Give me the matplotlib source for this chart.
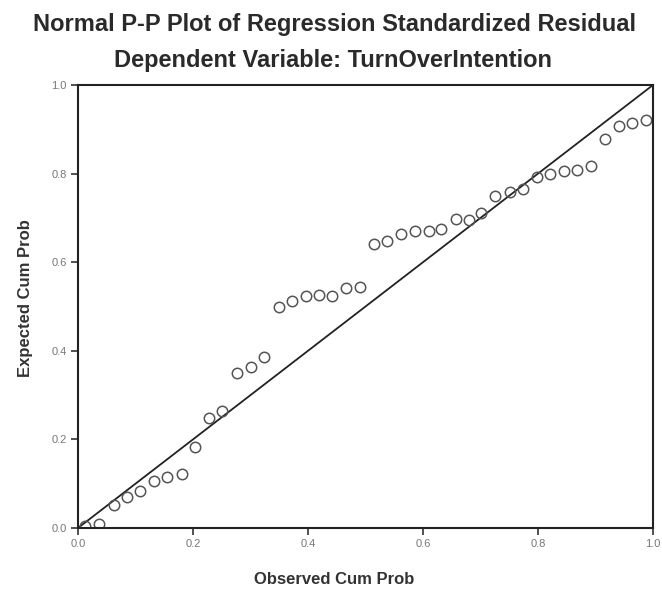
import matplotlib.pyplot as plt

plt.rcParams['font.family'] = ['Liberation Sans', 'DejaVu Sans']

# observed vs expected cumulative probabilities
observed = [0.013, 0.037, 0.063, 0.086, 0.108, 0.132, 0.155, 0.180, 0.203, 0.227,
            0.251, 0.277, 0.301, 0.323, 0.350, 0.373, 0.396, 0.419, 0.442, 0.466,
            0.490, 0.514, 0.538, 0.562, 0.586, 0.610, 0.632, 0.657, 0.680, 0.701,
            0.726, 0.751, 0.774, 0.798, 0.821, 0.845, 0.867, 0.892, 0.917, 0.941,
            0.964, 0.988]
expected = [0.005, 0.009, 0.052, 0.070, 0.084, 0.107, 0.116, 0.122, 0.182, 0.249,
            0.264, 0.351, 0.364, 0.385, 0.499, 0.513, 0.524, 0.525, 0.524, 0.542,
            0.545, 0.641, 0.648, 0.663, 0.670, 0.670, 0.676, 0.698, 0.695, 0.711,
            0.749, 0.758, 0.765, 0.793, 0.800, 0.806, 0.809, 0.817, 0.879, 0.908,
            0.914, 0.920]
ticks = [0.0, 0.2, 0.4, 0.6, 0.8, 1.0]
tick_labels = ['0.0', '0.2', '0.4', '0.6', '0.8', '1.0']

fig = plt.figure(figsize=(6.62, 5.96), dpi=100)
ax = fig.add_axes([78 / 662, 1 - 528 / 596, 575 / 662, 443 / 596])

ax.plot([0, 1], [0, 1], color='#222222', lw=1.3)
ax.plot(observed, expected, 'o', mfc='none', mec='#555555', mew=1.1, ms=7.5)

ax.set_xlim(0, 1)
ax.set_ylim(0, 1)
ax.set_xticks(ticks)
ax.set_xticklabels(tick_labels)
ax.set_yticks(ticks)
ax.set_yticklabels(tick_labels)
ax.tick_params(direction='out', length=5, width=1.2, color='#333333',
               labelsize=8, labelcolor='#777777', pad=3)
for s in ax.spines.values():
    s.set_linewidth(1.5)
    s.set_color('#222222')

ax.set_xlabel('Observed Cum Prob', fontsize=12, fontweight='bold', color='#333333')
ax.xaxis.set_label_coords(0.445, -0.1)
ax.set_ylabel('Expected Cum Prob', fontsize=12, fontweight='bold', color='#333333')
ax.yaxis.set_label_coords(-0.078, 0.52)

fig.text(0.505, 1 - 25 / 596, 'Normal P-P Plot of Regression Standardized Residual',
         ha='center', va='center', fontsize=17, fontweight='bold', color='#2a2a2a')
fig.text(0.503, 1 - 60 / 596, 'Dependent Variable: TurnOverIntention',
         ha='center', va='center', fontsize=17, fontweight='bold', color='#2a2a2a')

fig.savefig('out.png', dpi=100, facecolor='white')
